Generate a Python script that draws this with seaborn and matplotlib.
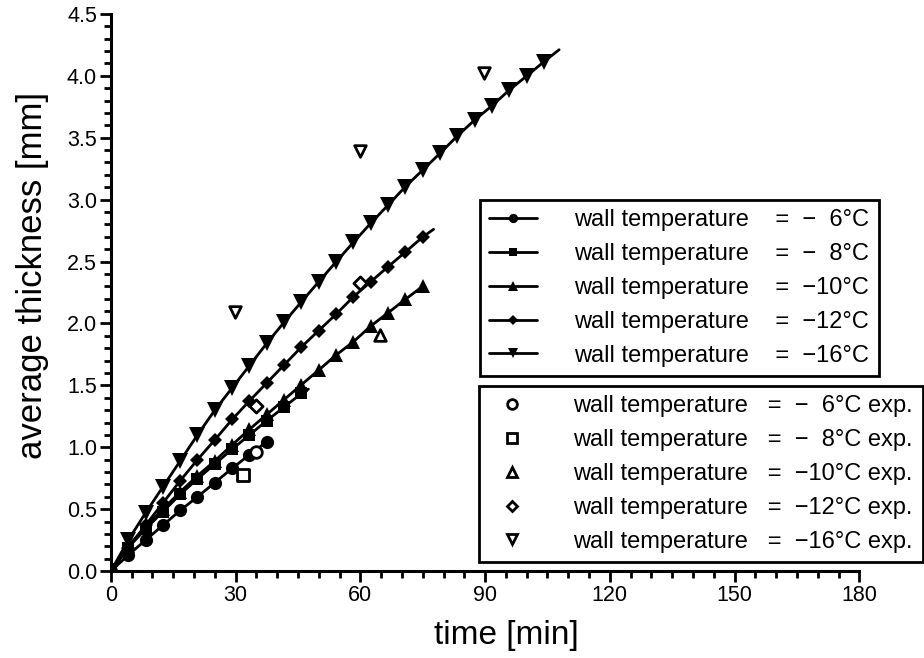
import numpy as np
import pandas as pd
import seaborn as sns
import matplotlib
matplotlib.use("Agg")
import matplotlib.pyplot as plt
from matplotlib.lines import Line2D
from matplotlib.ticker import MultipleLocator, FormatStrFormatter

# model time grid [min] (markers every ~250 s)
t_grid = [0, 4.17, 8.33, 12.5, 16.67, 20.83, 25.0, 29.17, 33.33, 37.5, 41.67, 45.83,
          50.0, 54.17, 58.33, 62.5, 66.67, 70.83, 75.0, 79.17, 83.33, 87.5, 91.67,
          95.83, 100.0, 104.17]

# model curves: thickness [mm]
y_m6 = [0, 0.13, 0.25, 0.37, 0.49, 0.60, 0.715, 0.83, 0.94, 1.045]
y_m8 = [0, 0.19, 0.34, 0.48, 0.62, 0.745, 0.865, 0.985, 1.10, 1.215, 1.325, 1.435]
y_m10 = [0, 0.20, 0.36, 0.50, 0.64, 0.77, 0.89, 1.02, 1.145, 1.265, 1.385, 1.505,
         1.624, 1.745, 1.852, 1.979, 2.086, 2.195, 2.30]
y_m12 = [0, 0.19, 0.37, 0.55, 0.73, 0.90, 1.06, 1.225, 1.375, 1.52, 1.665, 1.81,
         1.943, 2.075, 2.215, 2.337, 2.458, 2.577, 2.698]
y_m16 = [0, 0.25, 0.47, 0.68, 0.89, 1.10, 1.30, 1.48, 1.66, 1.84, 2.01, 2.175,
         2.337, 2.498, 2.655, 2.809, 2.956, 3.104, 3.239, 3.374, 3.514, 3.643,
         3.758, 3.885, 3.998, 4.114]
# line end points beyond the last marker (time, thickness)
end_m8 = (47.5, 1.47)
end_m12 = (77.6, 2.76)
end_m16 = (107.8, 4.21)

# experimental points
exp_m6_t, exp_m6_y = [35.0], [0.96]
exp_m8_t, exp_m8_y = [31.8], [0.775]
exp_m10_t, exp_m10_y = [64.7], [1.91]
exp_m12_t, exp_m12_y = [35.0, 59.8], [1.33, 2.33]
exp_m16_t, exp_m16_y = [29.8, 59.9, 89.7], [2.095, 3.39, 4.02]

labels = ["wall temperature    =  \u2212  6°C",
          "wall temperature    =  \u2212  8°C",
          "wall temperature    =  \u221210°C",
          "wall temperature    =  \u221212°C",
          "wall temperature    =  \u221216°C"]
labels_exp = [l.replace("    =", "   =") + " exp." for l in labels]
model_markers = ["o", "s", "^", "D", "v"]
model_msize = [9.5, 9, 10.5, 7.5, 11]

sns.set_style("ticks")
plt.rcParams["font.family"] = ["Liberation Sans", "DejaVu Sans"]
plt.rcParams["text.color"] = "k"
plt.rcParams["axes.labelcolor"] = "k"
plt.rcParams["xtick.color"] = "k"
plt.rcParams["ytick.color"] = "k"

fig = plt.figure(figsize=(9.24, 6.58), dpi=100)
ax = fig.add_axes([0.120, 0.132, 0.810, 0.847])

model = [(y_m6, None), (y_m8, end_m8), (y_m10, None), (y_m12, end_m12), (y_m16, end_m16)]
for (yv, end), mk, ms in zip(model, model_markers, model_msize):
    df = pd.DataFrame({"t": t_grid[:len(yv)], "y": yv})
    n = len(df)
    if end is not None:
        df.loc[n] = end
    sns.lineplot(data=df, x="t", y="y", ax=ax, color="k", lw=2, marker=mk,
                 markersize=ms, markeredgecolor="k", markeredgewidth=0,
                 markevery=list(range(n)), legend=False, zorder=3)

exp_sets = [(exp_m6_t, exp_m6_y), (exp_m8_t, exp_m8_y), (exp_m10_t, exp_m10_y),
            (exp_m12_t, exp_m12_y), (exp_m16_t, exp_m16_y)]
for (tx, ty), mk in zip(exp_sets, model_markers):
    sns.scatterplot(x=tx, y=ty, ax=ax, marker=mk, s=70 if mk != "D" else 45,
                    color="white", edgecolor="k", linewidth=2, zorder=4, legend=False)

ax.set_xlim(0, 180)
ax.set_ylim(0, 4.5)
ax.xaxis.set_major_locator(MultipleLocator(30))
ax.xaxis.set_minor_locator(MultipleLocator(5))
ax.yaxis.set_major_locator(MultipleLocator(0.5))
ax.yaxis.set_minor_locator(MultipleLocator(0.1))
ax.yaxis.set_major_formatter(FormatStrFormatter("%.1f"))
ax.tick_params(which="major", length=8, width=2, labelsize=15.5, direction="out",
               color="k", labelcolor="k", pad=2)
ax.tick_params(which="minor", length=5, width=2, direction="out", color="k")
for side in ["top", "right"]:
    ax.spines[side].set_visible(False)
for side in ["left", "bottom"]:
    ax.spines[side].set_linewidth(2.2)
    ax.spines[side].set_color("k")
ax.set_xlabel("time [min]", fontsize=24)
ax.set_ylabel("average thickness [mm]", fontsize=25)
ax.xaxis.set_label_coords(0.528, -0.088)
ax.yaxis.set_label_coords(-0.083, 0.531)

h_model = [Line2D([], [], color="k", lw=2, marker=mk, markersize=ms * 0.7,
                  markeredgewidth=0) for mk, ms in zip(model_markers, model_msize)]
h_exp = [Line2D([], [], ls="none", marker=mk, markersize=7 if mk != "D" else 5.5,
                markerfacecolor="white", markeredgecolor="k", markeredgewidth=2)
         for mk in model_markers]

leg_kw = dict(fontsize=17, frameon=True, fancybox=False, edgecolor="k", framealpha=1,
              loc="upper left", bbox_transform=fig.transFigure, handlelength=2.0,
              handletextpad=1.6, labelspacing=0.5, borderpad=0.4, borderaxespad=0)
leg1 = ax.legend(h_model, labels, bbox_to_anchor=(480 / 924, 1 - 200 / 658), **leg_kw)
leg1.get_frame().set_linewidth(2)
ax.add_artist(leg1)
leg2 = ax.legend(h_exp, labels_exp, bbox_to_anchor=(479 / 924, 1 - 386 / 658), **leg_kw)
leg2.get_frame().set_linewidth(2)

fig.savefig("out.png", dpi=100)
